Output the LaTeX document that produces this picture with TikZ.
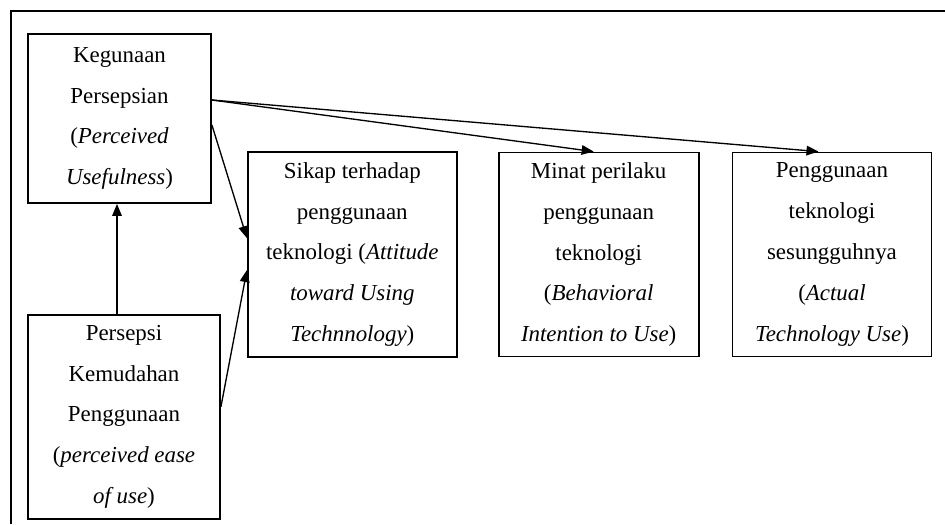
\documentclass[tikz,border=0pt]{standalone}
\usepackage{fontspec}
\setmainfont{Liberation Serif}
\usetikzlibrary{positioning,arrows.meta}

\begin{document}
\begin{tikzpicture} [node distance = 1cm, >={Triangle[length=0.3cm, width=0.24cm]},
       construct/.style = {draw, line width=1.3pt, align=center, inner sep=0pt, font=\fontsize{16.3}{29}\selectfont}]
       \useasboundingbox (0,0) rectangle (23.625,-13.1);
       \draw[line width=1.3pt] (0.275,-13.1) |- (23.625,-0.275);
       \node (pu) [construct, minimum width=4.575cm, minimum height=4.225cm] at (2.9875,-2.9625)
             {Kegunaan\\ Persepsian\\ (\textit{Perceived}\\ \textit{Usefulness})};
       \node (peou) [construct, minimum width=4.8cm, minimum height=5.1cm, below=2.75cm of pu.south west, anchor=north west]
             {Persepsi\\ Kemudahan\\ Penggunaan\\ (\textit{perceived ease}\\ \textit{of use})};
       \node (att) [construct, minimum width=5.225cm, minimum height=5.125cm, below right=2.95cm and 0.875cm of pu.north east, anchor=north west]
             {Sikap terhadap\\ penggunaan\\ teknologi (\textit{Attitude}\\ \textit{toward Using}\\ \textit{Technnology})};
       \node (bi) [construct, minimum width=5cm, minimum height=5.1cm, right=1cm of att]
             {Minat perilaku\\ penggunaan\\ teknologi\\ (\textit{Behavioral}\\ \textit{Intention to Use})};
       \node (au) [construct, minimum width=4.975cm, minimum height=5.1cm, right=0.8cm of bi]
             {Penggunaan\\ teknologi\\ sesungguhnya\\ (\textit{Actual}\\ \textit{Technology Use})};
        \path[->, line width=0.95pt]
        ([xshift=-0.175cm]peou.north) edge ([xshift=-0.175cm]peou.north |- pu.south)
        ([yshift=0.4625cm]pu.east) edge ([xshift=-0.125cm]bi.north)
        ([yshift=0.4625cm]pu.east) edge ([xshift=-0.3375cm]au.north)
        ([yshift=-0.1625cm]pu.east) edge ([yshift=0.41cm]att.west)
        ([yshift=0.25cm]peou.east) edge ([yshift=-0.39cm]att.west);
     \end{tikzpicture}
\end{document}
